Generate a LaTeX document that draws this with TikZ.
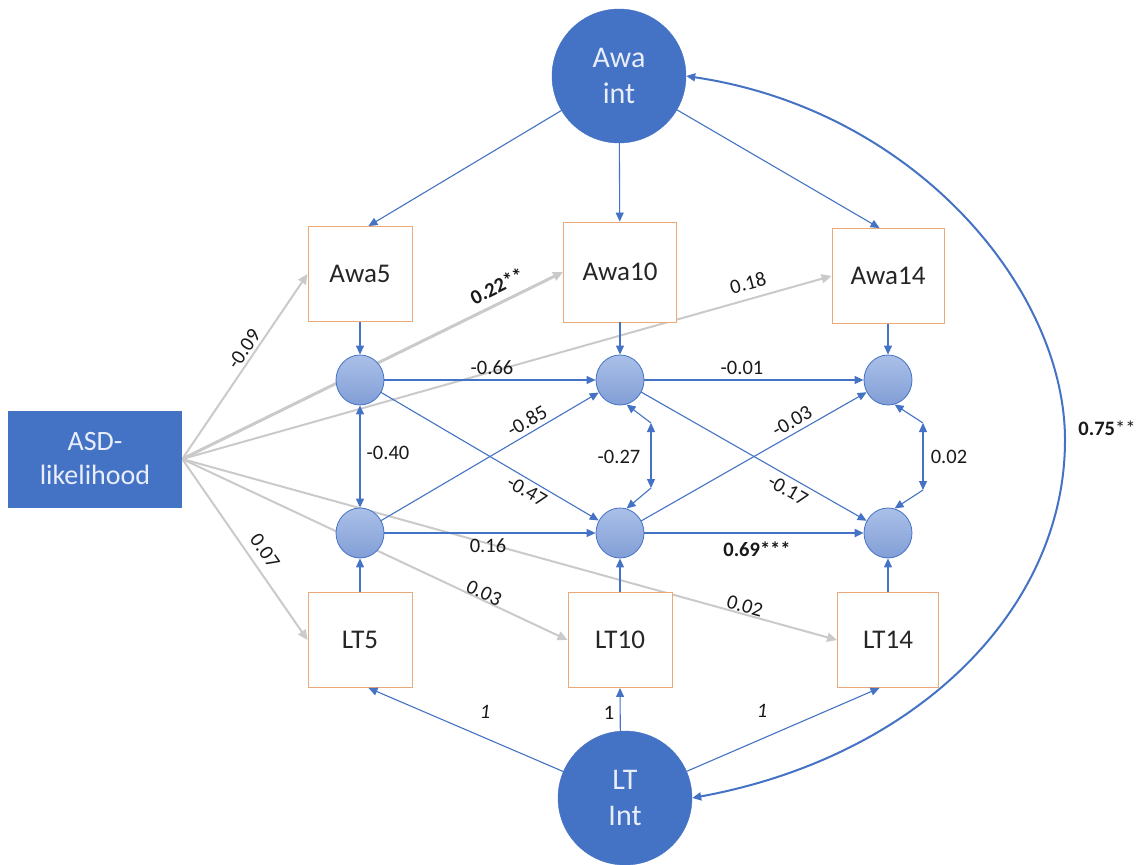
\documentclass[tikz,border=0pt]{standalone}
\usepackage{fontspec}
\setmainfont{Carlito}
\usetikzlibrary{arrows.meta,shapes.geometric,backgrounds}
\definecolor{dblue}{HTML}{4472C4}
\definecolor{lblueT}{HTML}{AAC0E8}
\definecolor{lblueB}{HTML}{829ED6}
\definecolor{boxor}{HTML}{EDA878}
\definecolor{gline}{HTML}{CACACA}
\definecolor{ltext}{HTML}{E8EEFA}
\begin{document}
\begin{tikzpicture}[x=1pt,y=-1pt,
  big/.style={circle,fill=dblue,draw=dblue,minimum size=134pt,inner sep=0pt,text=ltext,font=\fontsize{30}{36}\selectfont,align=center},
  asdbox/.style={rectangle,fill=dblue,minimum width=174pt,minimum height=97pt,text=ltext,font=\fontsize{28}{34}\selectfont,align=center},
  obs/.style={rectangle,draw=boxor,line width=0.9pt,fill=white,minimum width=104pt,minimum height=95pt,text=black!85,font=\fontsize{27}{30}\selectfont},
  lat/.style={ellipse,draw=dblue,line width=0.8pt,top color=lblueT,bottom color=lblueB,minimum width=48pt,minimum height=50pt,inner sep=0pt},
  barrow/.style={draw=dblue,line width=1.1pt,-{Triangle[length=9pt,width=8pt]}},
  bcov/.style={draw=dblue,line width=1.1pt,{Triangle[length=9pt,width=8pt]}-{Triangle[length=9pt,width=8pt]}},
  garrow/.style={draw=gline,line width=2pt,-{Triangle[length=10pt,width=9pt]}},
  labfont/.style={font=\fontsize{20.5}{24}\selectfont#1},
  lab/.style={labfont=,text=black!90,inner sep=0pt},
]
\useasboundingbox (0,0) rectangle (1141,865);

% main nodes
\node[big] (awaint) at (619,76) {Awa\\int};
\node[big] (ltint) at (625,798) {LT\\Int};
\node[asdbox] (asd) at (95,459) {ASD-\\likelihood};

\node[obs] (awa5) at (360,274) {Awa5};
\node[obs,minimum width=113pt,minimum height=100pt] (awa10) at (620,272) {Awa10};
\node[obs,minimum width=112pt] (awa14) at (888,276) {Awa14};
\node[obs] (lt5) at (360,640) {LT5};
\node[obs] (lt10) at (620,640) {LT10};
\node[obs,minimum width=101pt] (lt14) at (888,640) {LT14};

\node[lat] (c1) at (360,380) {};
\node[lat] (c2) at (620,380) {};
\node[lat] (c3) at (888,380) {};
\node[lat] (d1) at (360,533) {};
\node[lat] (d2) at (620,533) {};
\node[lat] (d3) at (888,533) {};

% gray regression paths (behind)
\begin{scope}[on background layer]
\draw[garrow] (asd.east) -- (awa5.west);
\draw[garrow,line width=3pt] (asd.east) -- (awa10.west);
\draw[garrow] (asd.east) -- (awa14.west);
\draw[garrow] (asd.east) -- (lt5.west);
\draw[garrow] (asd.east) -- (lt10.west);
\draw[garrow] (asd.east) -- (lt14.west);
\end{scope}

% loadings
\draw[barrow] (awaint) -- (awa5.80);
\draw[barrow] (awaint) -- (awa10);
\draw[barrow] (awaint) -- (awa14.100);
\draw[barrow] (ltint) -- (lt5.-80);
\draw[barrow] (ltint.94) -- (lt10.south);
\draw[barrow] (ltint) -- (lt14.-100);

\draw[barrow] (awa5) -- (c1);
\draw[barrow] (awa10) -- (c2);
\draw[barrow] (awa14) -- (c3);
\draw[barrow] (lt5) -- (d1);
\draw[barrow] (lt10) -- (d2);
\draw[barrow] (lt14) -- (d3);

% cross-lagged paths
\draw[barrow] (c1) -- (c2);
\draw[barrow] (c2) -- (c3);
\draw[barrow] (d1) -- (d2);
\draw[barrow,line width=2pt] (d2) -- (d3);
\draw[barrow] (c1) -- (d2);
\draw[barrow] (d1) -- (c2);
\draw[barrow] (c2) -- (d3);
\draw[barrow] (d2) -- (c3);

% covariances
\draw[bcov] (c1) -- (d1);
\coordinate (k1) at (651,423);
\coordinate (k2) at (651,488);
\draw[barrow] (k1) -- (c2.-75);
\draw[bcov] (k1) -- (k2);
\draw[barrow] (k2) -- (d2.75);
\coordinate (m1) at (923,423);
\coordinate (m2) at (923,490);
\draw[barrow] (m1) -- (c3.-75);
\draw[bcov] (m1) -- (m2);
\draw[barrow] (m2) -- (d3.75);

\draw[bcov,line width=2pt] (awaint.east) .. controls (916,110) and (1065,290) .. (1065,440)
   .. controls (1065,610) and (916,757) .. (ltint.east);

% labels
\node[lab,rotate=55] (l1) at (244,349) {-0.09};
\node[lab,rotate=26,labfont=\bfseries] (l2) at (497,286) {0.22**};
\node[lab,rotate=15] (l3) at (748,283) {0.18};
\node[lab] (l4) at (492,368) {-0.66};
\node[lab] (l5) at (742,368) {-0.01};
\node[lab,rotate=30] (l6) at (527,421) {-0.85};
\node[lab,rotate=30] (l7) at (792,421) {-0.03};
\node[lab] (l8) at (388,453) {-0.40};
\node[lab] (l9) at (619,457) {-0.27};
\node[lab] (l10) at (949,457) {0.02};
\node[lab,rotate=-30] (l11) at (527,491) {-0.47};
\node[lab,rotate=-30] (l12) at (788,490) {-0.17};
\node[lab] (l13) at (488,546) {0.16};
\node[lab,labfont=\bfseries] (l14) at (757,549) {0.69***};
\node[lab,rotate=-55] (l15) at (265,551) {0.07};
\node[lab,rotate=-25] (l16) at (484,593) {0.03};
\node[lab,rotate=-16] (l17) at (745,606) {0.02};
\node[lab,labfont=\itshape] (l18) at (485,712) {1};
\node[lab] (l19) at (609,713) {1};
\node[lab,labfont=\itshape] (l20) at (762,711) {1};
\node[lab] (l21) at (1107,428) {\textbf{0.75}**};
\end{tikzpicture}
\end{document}
